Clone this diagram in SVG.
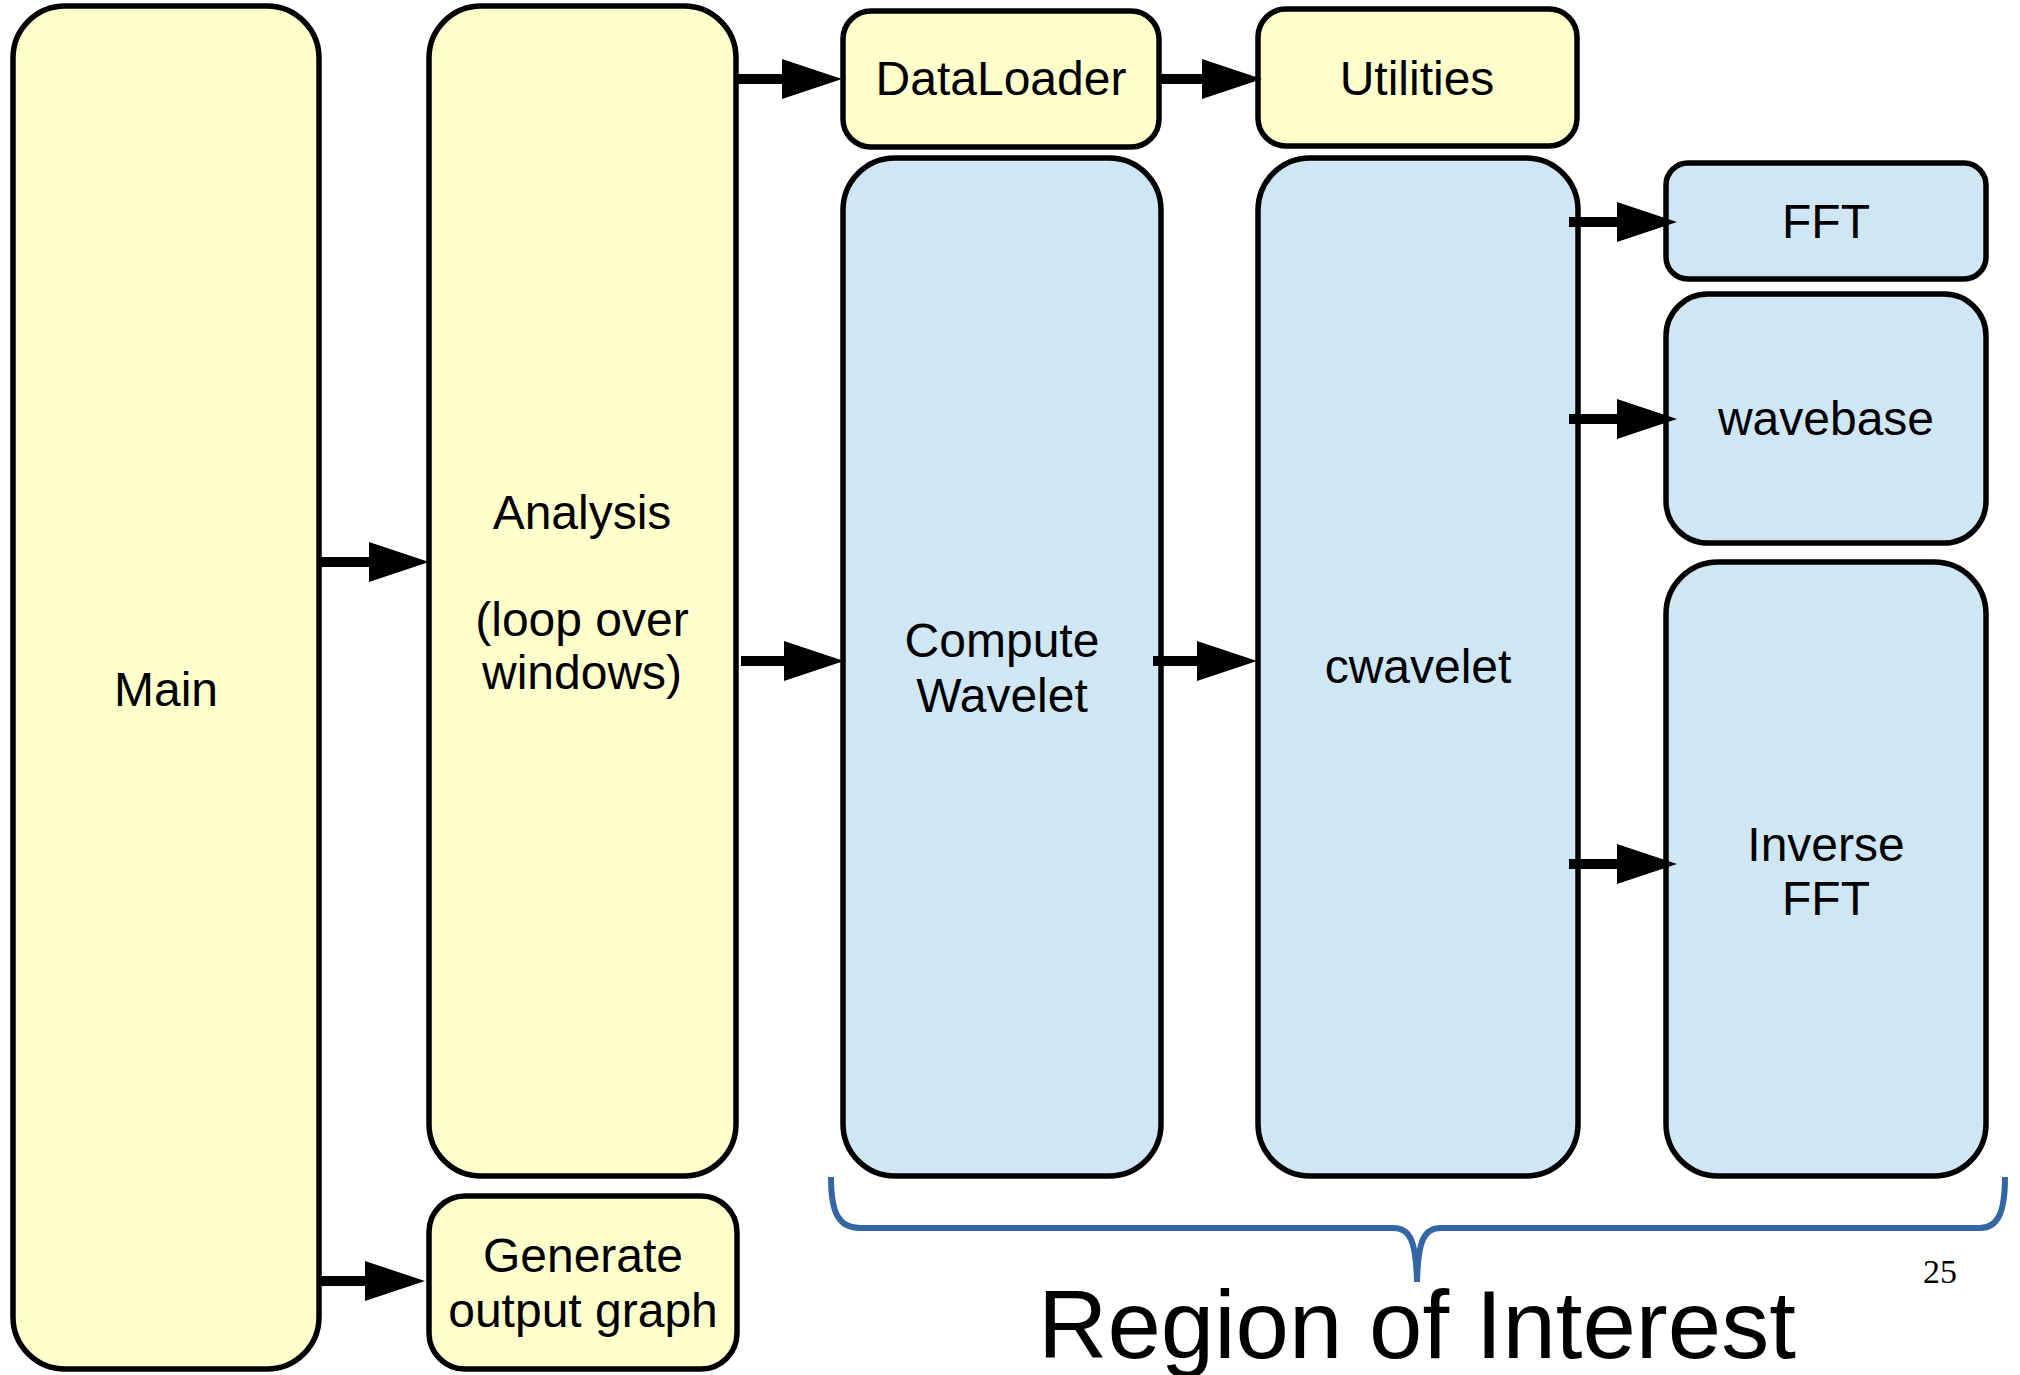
<svg xmlns="http://www.w3.org/2000/svg" width="2020" height="1375" viewBox="0 0 2020 1375">
<style>
.y{fill:#ffffcc;stroke:#000;stroke-width:5.5}
.b{fill:#cfe7f5;stroke:#000;stroke-width:5.5}
text{font-family:"Liberation Sans",Arial,sans-serif;font-size:48px;fill:#000;text-anchor:middle}
.c{stroke:#000;stroke-width:10;fill:none;marker-end:url(#ah)}
</style>
<defs>
<marker id="ah" markerUnits="userSpaceOnUse" markerWidth="60" markerHeight="40" refX="0" refY="20" orient="auto" overflow="visible">
<path d="M0,0 L60,20 L0,40 Z" fill="#000"/>
</marker>
</defs>
<rect width="2020" height="1375" fill="#fff"/>
<g id="main"><rect class="y" x="13" y="6" width="306" height="1363" rx="52" ry="52"/><text x="166" y="706">Main</text></g>
<g id="analysis"><rect class="y" x="429" y="6" width="307" height="1170" rx="52" ry="52"/><text x="582" y="529">Analysis</text><text x="582" y="636">(loop over</text><text x="582" y="689">windows)</text></g>
<g id="generate"><rect class="y" x="429" y="1196" width="308" height="173" rx="36" ry="36"/><text x="583" y="1272">Generate</text><text x="583" y="1327">output graph</text></g>
<g id="dataloader"><rect class="y" x="843" y="11" width="316" height="136" rx="28" ry="28"/><text x="1001" y="95">DataLoader</text></g>
<g id="utilities"><rect class="y" x="1258" y="9" width="319" height="137" rx="28" ry="28"/><text x="1417" y="95">Utilities</text></g>
<g id="compute"><rect class="b" x="843" y="158" width="318" height="1018" rx="52" ry="52"/><text x="1002" y="657">Compute</text><text x="1002" y="712">Wavelet</text></g>
<g id="cwavelet"><rect class="b" x="1258" y="158" width="320" height="1018" rx="52" ry="52"/><text x="1418" y="683">cwavelet</text></g>
<g id="fft"><rect class="b" x="1666" y="163" width="320" height="116" rx="22" ry="22"/><text x="1826" y="238">FFT</text></g>
<g id="wavebase"><rect class="b" x="1666" y="294" width="320" height="249" rx="42" ry="42"/><text x="1826" y="435">wavebase</text></g>
<g id="inversefft"><rect class="b" x="1666" y="562" width="320" height="614" rx="52" ry="52"/><text x="1826" y="861">Inverse</text><text x="1826" y="915">FFT</text></g>
<g id="connectors">
<line class="c" x1="319" y1="562" x2="369" y2="562"/>
<line class="c" x1="319" y1="1281" x2="365" y2="1281"/>
<line class="c" x1="736" y1="79" x2="782" y2="79"/>
<line class="c" x1="741" y1="661" x2="784" y2="661"/>
<line class="c" x1="1159" y1="79" x2="1202" y2="79"/>
<line class="c" x1="1153" y1="661" x2="1197" y2="661"/>
<line class="c" x1="1569" y1="222" x2="1617" y2="222"/>
<line class="c" x1="1569" y1="419" x2="1617" y2="419"/>
<line class="c" x1="1569" y1="864" x2="1617" y2="864"/>
</g>
<g id="region">
<path d="M831,1177 C831,1212 838,1228 860,1228 L1393,1228 C1410,1228 1416,1240 1417,1282 C1418,1240 1424,1228 1441,1228 L1980,1228 C1998,1228 2005,1212 2005,1177" fill="none" stroke="#3465a4" stroke-width="6"/>
<text x="1417" y="1358" style="font-size:96px">Region of Interest</text>
</g>
<text x="1940" y="1283" style="font-family:'Liberation Serif','Times New Roman',serif;font-size:34px">25</text>
</svg>
